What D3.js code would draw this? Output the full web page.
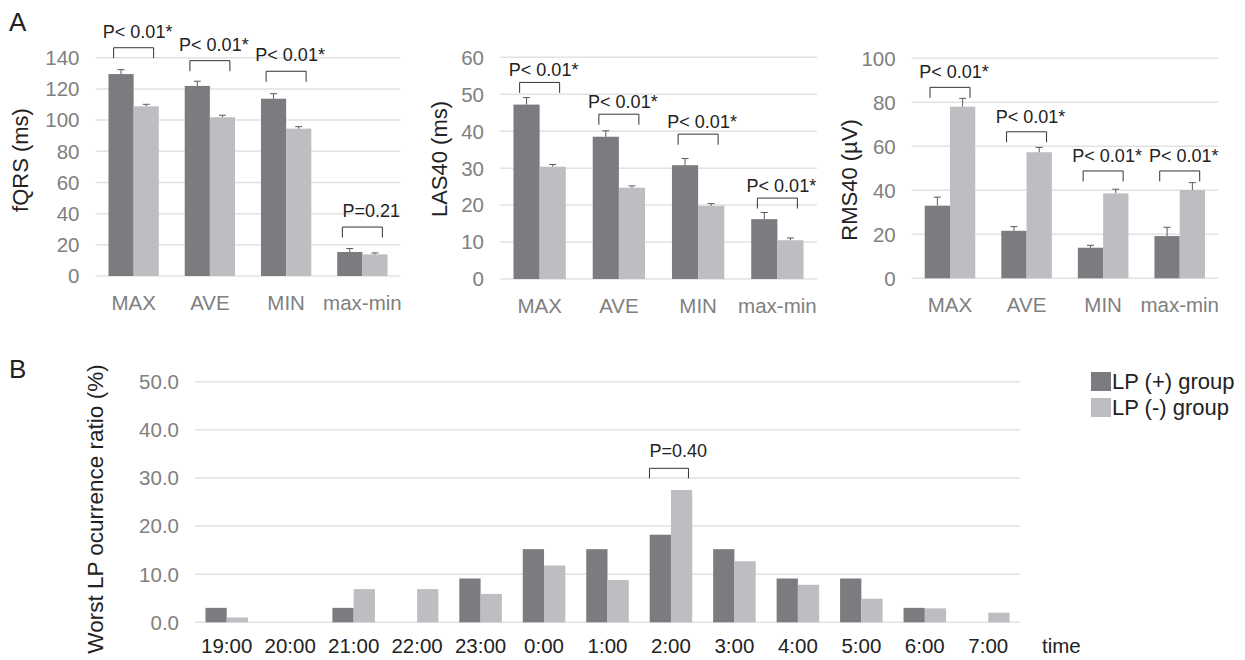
<!DOCTYPE html>
<html>
<head>
<meta charset="utf-8">
<script src="https://cdn.jsdelivr.net/npm/d3@7/dist/d3.min.js"></script>
<style>
  html, body { margin: 0; padding: 0; background: #fff; }
  svg { display: block; font-family: "Liberation Sans", Arial, Helvetica, sans-serif; }
</style>
</head>
<body>
<svg id="chart" width="1245" height="660"></svg>
<script>
// ---------------- DATA ----------------
const categoriesA = ["MAX", "AVE", "MIN", "max-min"];
const seriesNames = ["LP (+) group", "LP (-) group"];

// fQRS (ms)
const fqrsTicks = [0, 20, 40, 60, 80, 100, 120, 140];
const fqrsPos = [129.5, 121.9, 113.7, 15.4];
const fqrsPosErr = [2.8, 3.0, 3.2, 2.2];
const fqrsNeg = [108.8, 101.8, 94.5, 13.9];
const fqrsNegErr = [1.3, 1.3, 1.3, 0.9];
const fqrsPLabels = ["P< 0.01*", "P< 0.01*", "P< 0.01*", "P=0.21"];
const fqrsPLevels = [146.4, 138.1, 131.3, 31.4];

// LAS40 (ms)
const lasTicks = [0, 10, 20, 30, 40, 50, 60];
const lasPos = [47.2, 38.5, 30.8, 16.2];
const lasPosErr = [1.9, 1.6, 1.8, 1.8];
const lasNeg = [30.4, 24.7, 19.8, 10.5];
const lasNegErr = [0.6, 0.5, 0.6, 0.6];
const lasPLabels = ["P< 0.01*", "P< 0.01*", "P< 0.01*", "P< 0.01*"];
const lasPLevels = [53.2, 44.6, 39.2, 21.9];

// RMS40 (µV)
const rmsTicks = [0, 20, 40, 60, 80, 100];
const rmsPos = [33.0, 21.6, 13.9, 19.2];
const rmsPosErr = [3.9, 1.9, 1.1, 4.0];
const rmsNeg = [78.0, 57.3, 38.6, 40.1];
const rmsNegErr = [3.8, 2.2, 1.9, 3.4];
const rmsPLabels = ["P< 0.01*", "P< 0.01*", "P< 0.01*", "P< 0.01*"];
const rmsPLevels = [86.8, 66.6, 48.8, 48.8];

// Panel B: worst LP occurrence ratio (%)
const timeLabels = ["19:00", "20:00", "21:00", "22:00", "23:00", "0:00", "1:00",
                    "2:00", "3:00", "4:00", "5:00", "6:00", "7:00"];
const ratioTicks = [0, 10, 20, 30, 40, 50];
const ratioPos = [3.0, 0, 3.0, 0, 9.1, 15.2, 15.2, 18.2, 15.2, 9.1, 9.1, 3.0, 0];
const ratioNeg = [1.0, 0, 6.9, 6.9, 5.9, 11.8, 8.8, 27.5, 12.7, 7.8, 4.9, 2.9, 2.0];
const ratioPIndex = 7;
const ratioPLabel = "P=0.40";
const ratioPLevel = 32.0;

// ---------------- STYLE ----------------
const DARK = "#7b7c80";
const LIGHT = "#bdbec2";
const GRID = "#e2e2e2";
const TICK_COLOR = "#808080";
const TEXT_COLOR = "#222";

const svg = d3.select("#chart");
svg.append("rect").attr("width", 1245).attr("height", 660).attr("fill", "#fff");

function drawPanelA(cfg) {
  const g = svg.append("g");
  const y = d3.scaleLinear().domain([0, d3.max(cfg.ticks)]).range([cfg.y0, cfg.y1]);
  const x = d3.scaleBand().domain(categoriesA).range([cfg.x0, cfg.x1]).padding(0);
  const bw = x.bandwidth();
  const xs = d3.scaleBand().domain([0, 1]).range([bw * 0.17, bw * 0.83]).padding(0);

  g.selectAll(".grid").data(cfg.ticks).enter().append("line")
    .attr("x1", cfg.x0).attr("x2", cfg.x1)
    .attr("y1", d => y(d)).attr("y2", d => y(d))
    .attr("stroke", GRID).attr("stroke-width", 1.5);
  g.selectAll(".tl").data(cfg.ticks).enter().append("text")
    .attr("x", cfg.x0 - 16).attr("y", d => y(d)).attr("dy", "0.36em")
    .attr("text-anchor", "end").attr("font-size", 20.5).attr("fill", TICK_COLOR)
    .text(d => d);

  const rows = categoriesA.map((c, i) => ({
    c, i,
    vals: [cfg.pos[i], cfg.neg[i]],
    errs: [cfg.posErr[i], cfg.negErr[i]]
  }));

  const grp = g.selectAll(".grp").data(rows).enter().append("g")
    .attr("transform", d => `translate(${x(d.c)},0)`);
  grp.selectAll("rect").data(d => d.vals.map((v, k) => ({ v, k, e: d.errs[k] })))
    .enter().append("rect")
    .attr("x", d => xs(d.k)).attr("width", xs.bandwidth())
    .attr("y", d => y(d.v)).attr("height", d => y(0) - y(d.v))
    .attr("fill", d => d.k === 0 ? DARK : LIGHT);
  const eb = grp.selectAll(".eb").data(d => d.vals.map((v, k) => ({ v, k, e: d.errs[k] })))
    .enter().append("g");
  eb.append("line")
    .attr("x1", d => xs(d.k) + xs.bandwidth() / 2).attr("x2", d => xs(d.k) + xs.bandwidth() / 2)
    .attr("y1", d => y(d.v)).attr("y2", d => y(d.v + d.e))
    .attr("stroke", "#5a5a5a").attr("stroke-width", 1);
  eb.append("line")
    .attr("x1", d => xs(d.k) + xs.bandwidth() / 2 - 3.5).attr("x2", d => xs(d.k) + xs.bandwidth() / 2 + 3.5)
    .attr("y1", d => y(d.v + d.e)).attr("y2", d => y(d.v + d.e))
    .attr("stroke", "#5a5a5a").attr("stroke-width", 1);

  g.selectAll(".cl").data(categoriesA).enter().append("text")
    .attr("x", d => x(d) + bw / 2).attr("y", y(0) + 34)
    .attr("text-anchor", "middle").attr("font-size", 20.5).attr("fill", TICK_COLOR)
    .text(d => d);

  categoriesA.forEach((c, i) => {
    const cx = x(c) + bw / 2;
    const top = y(cfg.pLevels[i]);
    const l = cx - 20, r = cx + 20;
    g.append("path")
      .attr("d", `M${l},${top + 10.5}V${top}H${r}V${top + 10.5}`)
      .attr("fill", "none").attr("stroke", "#333").attr("stroke-width", 1);
    const lab = cfg.pLabels[i];
    const isEq = lab.indexOf("=") >= 0;
    g.append("text")
      .attr("x", isEq ? l : cx + 4)
      .attr("y", top - cfg.labelGap)
      .attr("text-anchor", isEq ? "start" : "middle")
      .attr("font-size", 18).attr("fill", TEXT_COLOR)
      .text(lab);
  });

  g.append("text")
    .attr("transform", `translate(${cfg.titleX},${cfg.titleY}) rotate(-90)`)
    .attr("text-anchor", "middle").attr("font-size", 22).attr("fill", TEXT_COLOR)
    .text(cfg.title);
}

drawPanelA({
  x0: 95.5, x1: 400.5, y0: 276, y1: 57.7,
  ticks: fqrsTicks, pos: fqrsPos, posErr: fqrsPosErr, neg: fqrsNeg, negErr: fqrsNegErr,
  pLabels: fqrsPLabels, pLevels: fqrsPLevels, labelGap: 10,
  title: "fQRS (ms)", titleX: 28, titleY: 160
});
drawPanelA({
  x0: 500, x1: 817, y0: 279, y1: 57.3,
  ticks: lasTicks, pos: lasPos, posErr: lasPosErr, neg: lasNeg, negErr: lasNegErr,
  pLabels: lasPLabels, pLevels: lasPLevels, labelGap: 6,
  title: "LAS40 (ms)", titleX: 447, titleY: 159
});
drawPanelA({
  x0: 911.7, x1: 1218, y0: 278.3, y1: 58.3,
  ticks: rmsTicks, pos: rmsPos, posErr: rmsPosErr, neg: rmsNeg, negErr: rmsNegErr,
  pLabels: rmsPLabels, pLevels: rmsPLevels, labelGap: 9,
  title: "RMS40 (\u00B5V)", titleX: 857, titleY: 180
});

// ---------------- PANEL B ----------------
(function () {
  const g = svg.append("g");
  const x0 = 195, x1 = 1020;
  const y = d3.scaleLinear().domain([0, 50]).range([622.3, 381.7]);
  const x = d3.scaleBand().domain(timeLabels).range([x0, x1]).padding(0);
  const bw = x.bandwidth();
  const xs = d3.scaleBand().domain([0, 1]).range([bw * 0.165, bw * 0.835]).padding(0);

  g.selectAll(".grid").data(ratioTicks).enter().append("line")
    .attr("x1", x0).attr("x2", x1)
    .attr("y1", d => y(d)).attr("y2", d => y(d))
    .attr("stroke", GRID).attr("stroke-width", 1.5);
  g.selectAll(".tl").data(ratioTicks).enter().append("text")
    .attr("x", x0 - 16).attr("y", d => y(d)).attr("dy", "0.36em")
    .attr("text-anchor", "end").attr("font-size", 20.5).attr("fill", TICK_COLOR)
    .text(d => d3.format(".1f")(d));

  const rows = timeLabels.map((t, i) => ({ t, vals: [ratioPos[i], ratioNeg[i]] }));
  const grp = g.selectAll(".grp").data(rows).enter().append("g")
    .attr("transform", d => `translate(${x(d.t)},0)`);
  grp.selectAll("rect").data(d => d.vals.map((v, k) => ({ v, k })))
    .enter().append("rect")
    .attr("x", d => xs(d.k)).attr("width", xs.bandwidth())
    .attr("y", d => y(d.v)).attr("height", d => y(0) - y(d.v))
    .attr("fill", d => d.k === 0 ? DARK : LIGHT);

  g.selectAll(".cl").data(timeLabels).enter().append("text")
    .attr("x", d => x(d) + bw / 2).attr("y", y(0) + 31)
    .attr("text-anchor", "middle").attr("font-size", 20.5).attr("fill", TEXT_COLOR)
    .text(d => d);
  g.append("text").attr("x", 1042).attr("y", y(0) + 31)
    .attr("font-size", 20.5).attr("fill", TEXT_COLOR).text("time");

  const cx = x(timeLabels[ratioPIndex]) + bw / 2;
  const top = y(ratioPLevel);
  const l = cx - 21.5, r = cx + 17.5;
  g.append("path")
    .attr("d", `M${l},${top + 10}V${top}H${r}V${top + 10}`)
    .attr("fill", "none").attr("stroke", "#333").attr("stroke-width", 1);
  g.append("text").attr("x", l).attr("y", top - 11)
    .attr("font-size", 18).attr("fill", TEXT_COLOR).text(ratioPLabel);

  g.append("text")
    .attr("transform", `translate(103,509) rotate(-90)`)
    .attr("text-anchor", "middle").attr("font-size", 22.5).attr("fill", TEXT_COLOR)
    .text("Worst LP ocurrence ratio (%)");

  const lg = svg.append("g");
  seriesNames.forEach((n, k) => {
    lg.append("rect").attr("x", 1091).attr("y", 372 + k * 26)
      .attr("width", 20).attr("height", 19).attr("fill", k === 0 ? DARK : LIGHT);
    lg.append("text").attr("x", 1112).attr("y", 389 + k * 26)
      .attr("font-size", 22).attr("fill", TEXT_COLOR).text(n);
  });
})();

svg.append("text").attr("x", 9).attr("y", 31).attr("font-size", 26).attr("fill", TEXT_COLOR).text("A");
svg.append("text").attr("x", 9).attr("y", 378).attr("font-size", 26).attr("fill", TEXT_COLOR).text("B");
</script>
</body>
</html>
